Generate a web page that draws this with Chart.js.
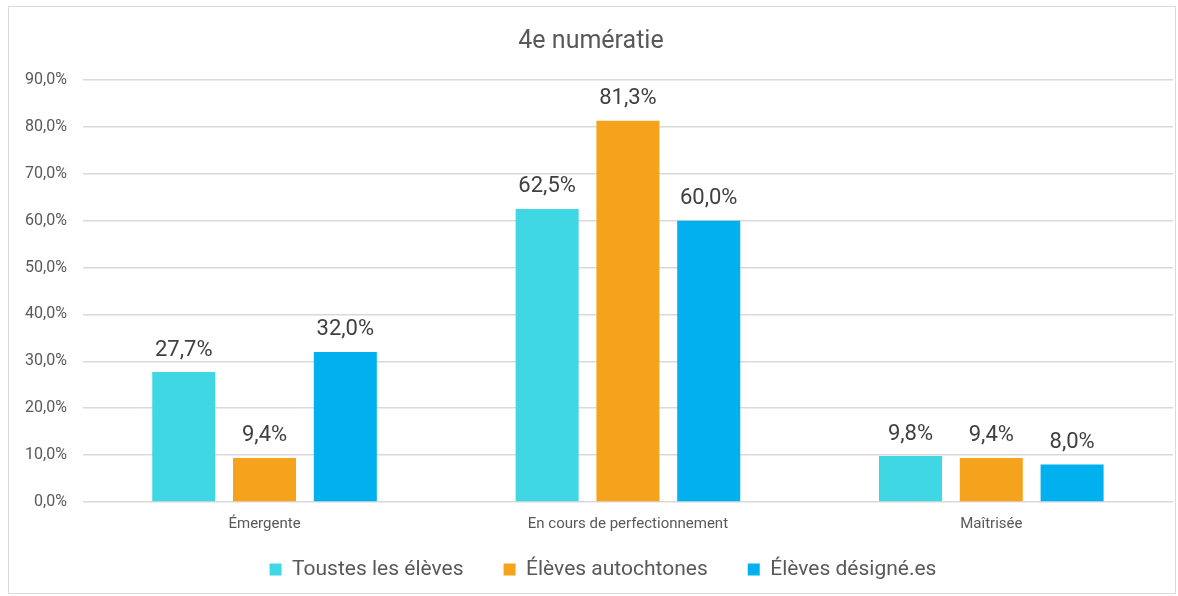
<!DOCTYPE html>
<html>
<head>
<meta charset="utf-8">
<script src="https://cdn.jsdelivr.net/npm/chart.js@4"></script>
<style>
  body { margin: 0; background: #fff; }
  #wrap { position: absolute; left: 8px; top: 6px; width: 1166px; height: 586px; border: 1px solid #d9d9d9; }
</style>
</head>
<body>
<div id="wrap"><canvas id="myChart"></canvas></div>
<script>
var categories = ['Émergente', 'En cours de perfectionnement', 'Maîtrisée'];
var seriesNames = ['Toustes les élèves', 'Élèves autochtones', 'Élèves désigné.es'];
var toustes = [27.7, 62.5, 9.8];
var autochtones = [9.4, 81.3, 9.4];
var designes = [32.0, 60.0, 8.0];
var colors = ['#40D7E4', '#F5A31D', '#00B0EF'];

function fmt(v) {
    return v.toFixed(1).replace('.', ',') + '%';
}

// draws the value above each bar + the category names under the axis
var valueLabels = {
    id: 'valueLabels',
    afterLayout(chart) {
        // legend sits a bit right of center in the original
        chart.legend.left += 12;
        chart.legend.right += 12;
    },
    afterDatasetsDraw(chart) {
        var ctx = chart.ctx;
        ctx.save();
        ctx.font = '22px Roboto';
        ctx.fillStyle = '#404040';
        ctx.textAlign = 'center';
        ctx.textBaseline = 'middle';
        chart.data.datasets.forEach(function(ds, i) {
            chart.getDatasetMeta(i).data.forEach(function(bar, j) {
                ctx.fillText(fmt(ds.data[j]), bar.x, bar.y - 22);
            });
        });
        // category labels (the axis box is too short to hold them, see afterFit)
        var xs = chart.scales.x;
        ctx.font = '15px Roboto';
        ctx.fillStyle = '#595959';
        categories.forEach(function(c, i) {
            ctx.fillText(c, xs.getPixelForTick(i), chart.chartArea.bottom + 22);
        });
        ctx.restore();
    }
};

var allData = [toustes, autochtones, designes];
var datasets = [];
for (var i = 0; i < seriesNames.length; i++) {
    datasets.push({
        label: seriesNames[i],
        data: allData[i],
        backgroundColor: colors[i],
        barPercentage: 0.78,
        categoryPercentage: 0.667
    });
}

var chart = new Chart('myChart', {
    type: 'bar',
    data: { labels: categories, datasets: datasets },
    plugins: [valueLabels],
    options: {
        responsive: true,
        maintainAspectRatio: false,
        animation: false,
        layout: { padding: { left: 0, right: 2, top: 6, bottom: 3 } },
        plugins: {
            title: {
                display: true,
                text: '4e numératie',
                color: '#595959',
                font: { family: 'Roboto', size: 25, weight: 'normal' },
                padding: { top: 14, bottom: 23 }
            },
            legend: {
                position: 'bottom',
                labels: {
                    color: '#595959',
                    font: { family: 'Roboto', size: 21 },
                    boxWidth: 12,
                    boxHeight: 12,
                    padding: 40
                }
            },
            tooltip: { enabled: false }
        },
        scales: {
            x: {
                grid: { display: false },
                border: { display: false },
                ticks: { display: false },
                afterFit: function(scale) { scale.height = 17; }
            },
            y: {
                min: 0,
                max: 90,
                grid: { color: '#d9d9d9', lineWidth: 1.5, drawTicks: false },
                border: { display: false },
                ticks: {
                    stepSize: 10,
                    color: '#595959',
                    font: { family: 'Roboto', size: 16 },
                    padding: 16,
                    callback: function(v) { return fmt(v); }
                }
            }
        }
    }
});
</script>
</body>
</html>
